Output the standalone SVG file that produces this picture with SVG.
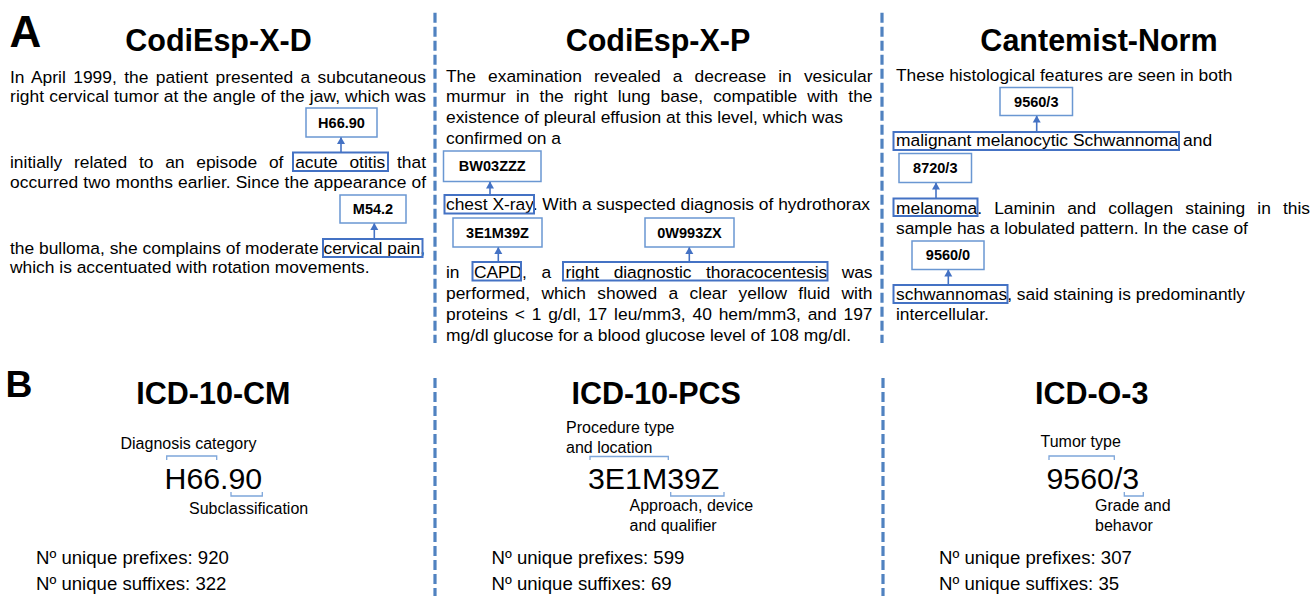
<svg xmlns="http://www.w3.org/2000/svg" width="1311" height="596" viewBox="0 0 1311 596">
<style>
text{font-family:"Liberation Sans",Arial,sans-serif;fill:#000}
.big{font-weight:bold;font-size:44px}
.bigB{font-weight:bold;font-size:37.3px}
.title{font-weight:bold;font-size:30.5px;text-anchor:middle}
.body{font-size:17.4px}
.code{font-weight:bold;font-size:14.5px;text-anchor:middle}
.cbox{fill:#fff;stroke:#6a97d2;stroke-width:1.5}
.hbox{fill:none;stroke:#4472c4;stroke-width:2}
.arrow{stroke:#4472c4;stroke-width:1.6;fill:none}
.sep{stroke:#5082c0;stroke-width:3.2;stroke-dasharray:10 4;fill:none}
.brk{stroke:#7ea6da;stroke-width:1.3;fill:none}
.bcode{font-size:30.3px}
.lbl{font-size:16px}
.stat{font-size:18.6px}
</style>
<defs>
<marker id="ah" markerUnits="userSpaceOnUse" markerWidth="8" markerHeight="8" refX="4" refY="0.5" orient="auto-start-reverse" viewBox="0 -1 8 8" overflow="visible">
<path d="M0,7 L4,0 L8,7 Z" fill="#4472c4" transform="rotate(90 4 0.5)"/>
</marker>
</defs>

<g id="separators">
<line class="sep" x1="435" y1="12.7" x2="435" y2="343"/>
<line class="sep" x1="882" y1="12.7" x2="882" y2="343"/>
<line class="sep" x1="435" y1="378" x2="435" y2="596"/>
<line class="sep" x1="883" y1="378" x2="883" y2="596"/>
</g>

<g id="panel-labels">
<text class="big" x="9.5" y="46.5">A</text>
<text class="bigB" x="5.6" y="396.7">B</text>
</g>

<g id="col-codiesp-d">
<text class="title" x="218.5" y="51">CodiEsp-X-D</text>
<text class="body" x="10" y="82.5" word-spacing="2.5" textLength="416" lengthAdjust="spacing">In April 1999, the patient presented a subcutaneous</text>
<text class="body" x="10" y="102" textLength="416" lengthAdjust="spacing">right cervical tumor at the angle of the jaw, which was</text>
<text class="body" x="10" y="168" word-spacing="6.9" textLength="416" lengthAdjust="spacing">initially related to an episode of acute otitis that</text>
<text class="body" x="10" y="188" textLength="416" lengthAdjust="spacing">occurred two months earlier. Since the appearance of</text>
<text class="body" x="10" y="253.5" textLength="415" lengthAdjust="spacing">the bulloma, she complains of moderate cervical pain,</text>
<text class="body" x="10" y="273">which is accentuated with rotation movements.</text>
</g>

<g id="col-codiesp-p">
<text class="title" x="658" y="51">CodiEsp-X-P</text>
<text class="body" x="446" y="81.7" word-spacing="7.3" textLength="426.5" lengthAdjust="spacing">The examination revealed a decrease in vesicular</text>
<text class="body" x="446" y="102.3" word-spacing="5.2" textLength="426.5" lengthAdjust="spacing">murmur in the right lung base, compatible with the</text>
<text class="body" x="446" y="123">existence of pleural effusion at this level, which was</text>
<text class="body" x="446" y="144">confirmed on a</text>
<text class="body" x="446" y="210">chest X-ray. With a suspected diagnosis of hydrothorax</text>
<text class="body" x="446" y="278.3" word-spacing="9.7" textLength="426.5" lengthAdjust="spacing">in CAPD, a right diagnostic thoracocentesis was</text>
<text class="body" x="446" y="299.3" word-spacing="6.5" textLength="426.5" lengthAdjust="spacing">performed, which showed a clear yellow fluid with</text>
<text class="body" x="446" y="320" word-spacing="2" textLength="426.5" lengthAdjust="spacing">proteins &lt; 1 g/dl, 17 leu/mm3, 40 hem/mm3, and 197</text>
<text class="body" x="446" y="340.5">mg/dl glucose for a blood glucose level of 108 mg/dl.</text>
</g>

<g id="col-cantemist">
<text class="title" x="1099" y="51">Cantemist-Norm</text>
<text class="body" x="896" y="81">These histological features are seen in both</text>
<text class="body" x="896" y="146">malignant melanocytic Schwannoma and</text>
<text class="body" x="896" y="214.3" word-spacing="7.3" textLength="414" lengthAdjust="spacing">melanoma. Laminin and collagen staining in this</text>
<text class="body" x="896" y="234.3">sample has a lobulated pattern. In the case of</text>
<text class="body" x="896" y="300">schwannomas, said staining is predominantly</text>
<text class="body" x="896" y="320">intercellular.</text>
</g>

<g id="span-acute-otitis"><rect class="hbox" x="293" y="152.5" width="95" height="18.5"/></g>
<g id="span-cervical-pain"><rect class="hbox" x="323" y="239" width="99.5" height="18"/></g>
<g id="span-chest-xray"><rect class="hbox" x="444.5" y="195" width="89.5" height="18.5"/></g>
<g id="span-capd"><rect class="hbox" x="472.5" y="262" width="48.5" height="18.5"/></g>
<g id="span-thoracocentesis"><rect class="hbox" x="563" y="262" width="264.5" height="18.5"/></g>
<g id="span-schwannoma"><rect class="hbox" x="893.5" y="132" width="285.5" height="18"/></g>
<g id="span-melanoma"><rect class="hbox" x="893.5" y="198.5" width="84" height="17.5"/></g>
<g id="span-schwannomas"><rect class="hbox" x="893.5" y="285" width="114" height="18"/></g>

<g id="code-H66.90"><rect class="cbox" x="306" y="108" width="71" height="29"/><text class="code" x="341.5" y="127.7">H66.90</text></g>
<g id="code-M54.2"><rect class="cbox" x="340" y="195" width="66" height="28"/><text class="code" x="373" y="214.2">M54.2</text></g>
<g id="code-BW03ZZZ"><rect class="cbox" x="443.5" y="151" width="97.5" height="30.5"/><text class="code" x="492.3" y="171.4">BW03ZZZ</text></g>
<g id="code-3E1M39Z"><rect class="cbox" x="453" y="218" width="89" height="29"/><text class="code" x="497.5" y="237.7">3E1M39Z</text></g>
<g id="code-0W993ZX"><rect class="cbox" x="645" y="218" width="89" height="29"/><text class="code" x="689.5" y="237.7">0W993ZX</text></g>
<g id="code-9560-3"><rect class="cbox" x="1000" y="87.5" width="72.5" height="28"/><text class="code" x="1036.3" y="106.7">9560/3</text></g>
<g id="code-8720-3"><rect class="cbox" x="899" y="153.5" width="72.5" height="29"/><text class="code" x="935.3" y="173.2">8720/3</text></g>
<g id="code-9560-0"><rect class="cbox" x="912" y="241" width="72" height="28.5"/><text class="code" x="948" y="260.4">9560/0</text></g>

<g id="connectors">
<line class="arrow" x1="341" y1="152.5" x2="341" y2="137.5" marker-end="url(#ah)"/>
<line class="arrow" x1="374.3" y1="239" x2="374.3" y2="223.5" marker-end="url(#ah)"/>
<line class="arrow" x1="490" y1="195" x2="490" y2="182" marker-end="url(#ah)"/>
<line class="arrow" x1="498.3" y1="262" x2="498.3" y2="247.5" marker-end="url(#ah)"/>
<line class="arrow" x1="689.3" y1="262" x2="689.3" y2="247.5" marker-end="url(#ah)"/>
<line class="arrow" x1="1036.7" y1="132" x2="1036.7" y2="116" marker-end="url(#ah)"/>
<line class="arrow" x1="936" y1="198.5" x2="936" y2="183" marker-end="url(#ah)"/>
<line class="arrow" x1="948.3" y1="285" x2="948.3" y2="270" marker-end="url(#ah)"/>
</g>

<g id="icd10cm">
<text class="title" x="213.4" y="404">ICD-10-CM</text>
<text class="lbl" x="120.5" y="449.3">Diagnosis category</text>
<path class="brk" d="M166.7,460 V456 H216.7 V460"/>
<text class="bcode" x="164.5" y="489">H66.90</text>
<path class="brk" d="M231,492 V496 H262.3 V492"/>
<text class="lbl" x="189" y="514">Subclassification</text>
<text class="stat" x="36" y="564">Nº unique prefixes: 920</text>
<text class="stat" x="36" y="590">Nº unique suffixes: 322</text>
</g>

<g id="icd10pcs">
<text class="title" x="656.2" y="404">ICD-10-PCS</text>
<text class="lbl" x="566" y="432.7">Procedure type</text>
<text class="lbl" x="566" y="452.7">and location</text>
<path class="brk" d="M590,460 V456.5 H668.3 V460"/>
<text class="bcode" x="588" y="489">3E1M39Z</text>
<path class="brk" d="M670.7,492 V496 H724 V492"/>
<text class="lbl" x="629.5" y="510.7">Approach, device</text>
<text class="lbl" x="629.5" y="530.7">and qualifier</text>
<text class="stat" x="491.5" y="564">Nº unique prefixes: 599</text>
<text class="stat" x="491.5" y="590">Nº unique suffixes: 69</text>
</g>

<g id="icdo3">
<text class="title" x="1091.7" y="404">ICD-O-3</text>
<text class="lbl" x="1040.5" y="447.3">Tumor type</text>
<path class="brk" d="M1049,460 V456 H1114.3 V460"/>
<text class="bcode" x="1046.5" y="489">9560/3</text>
<path class="brk" d="M1124.3,492 V496 H1143.3 V492"/>
<text class="lbl" x="1095" y="510.7">Grade and</text>
<text class="lbl" x="1095" y="530.7">behavor</text>
<text class="stat" x="939" y="564">Nº unique prefixes: 307</text>
<text class="stat" x="939" y="590">Nº unique suffixes: 35</text>
</g>
</svg>
